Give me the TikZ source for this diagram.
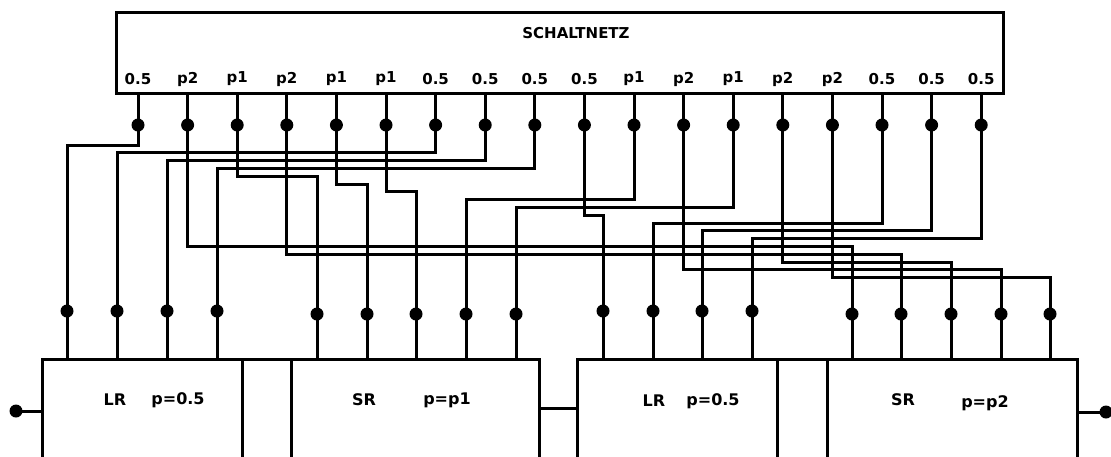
\documentclass[tikz,border=0pt]{standalone}
\usepackage{fontspec}
\setmainfont{DejaVu Sans}
\usetikzlibrary{calc}
\begin{document}
\begin{tikzpicture}[x=1pt,y=-1pt,
  box/.style={draw, line width=3pt, inner sep=0pt, minimum height=103pt},
  wire/.style={line width=3pt, line join=miter},
  pindot/.style={circle, fill, inner sep=0pt, minimum size=13pt},
  toplbl/.style={font=\bfseries\fontsize{15}{17}\selectfont, inner sep=0pt},
  boxlbl/.style={font=\bfseries\fontsize{16}{18}\selectfont, inner sep=0pt}]
\useasboundingbox (0,0) rectangle (1111,456);
\clip (0,0) rectangle (1111,456);

% top box
\node[draw, line width=3pt, minimum width=887pt, minimum height=81pt, inner sep=0pt] (sn) at (559.5,52.5) {};
\node[toplbl] (title) at (576,33) {SCHALTNETZ};

% top pins
\foreach \i/\l in {0/0.5,1/p2,2/p1,3/p2,4/p1,5/p1,6/0.5,7/0.5,8/0.5,9/0.5,10/p1,11/p2,12/p1,13/p2,14/p2,15/0.5,16/0.5,17/0.5}{
  \pgfmathsetmacro\px{138+49.6*\i}
  \coordinate (tp\i) at (\px,93);
  \node[pindot] (td\i) at (\px,125) {};
  \node[toplbl] (tl\i) at (\px,79) {\l};
}

% bottom boxes
\node[box, minimum width=200pt] (lr1) at (142,410.5) {};
\node[box, minimum width=49pt] (gap1) at (266.5,410.5) {};
\node[box, minimum width=248pt] (sr1) at (415,410.5) {};
\node[box, minimum width=200pt] (lr2) at (677,410.5) {};
\node[box, minimum width=50pt] (gap2) at (802,410.5) {};
\node[box, minimum width=250pt] (sr2) at (952,410.5) {};

\node[boxlbl] (lr1a) at (115,400) {LR};
\node[boxlbl] (lr1b) at (178,400) {p=0.5};
\node[boxlbl] (sr1a) at (364,400) {SR};
\node[boxlbl] (sr1b) at (447,400) {p=p1};
\node[boxlbl] (lr2a) at (654,401) {LR};
\node[boxlbl] (lr2b) at (713,401) {p=0.5};
\node[boxlbl] (sr2a) at (903,400) {SR};
\node[boxlbl] (sr2b) at (985,403) {p=p2};

% bottom pins
\foreach \k/\x/\y in {0/67/311,1/117/311,2/167/311,3/217/311,
  4/317/314,5/367/314,6/416/314,7/466/314,8/516/314,
  9/603/311,10/653/311,11/702/311,12/752/311,
  13/852/314,14/901/314,15/951/314,16/1001/314,17/1050/314}{
  \coordinate (bp\k) at (\x,359);
  \node[pindot] (bd\k) at (\x,\y) {};
}

% wiring: route k goes from top pin t to bottom pin k
\foreach \k/\t in {0/0,1/6,2/7,3/8,4/2,5/4,6/5,7/10,8/12,9/9,10/15,11/16,12/17,13/1,14/3,15/13,16/11,17/14}{
  \pgfmathsetmacro\ry{145+7.8*\k}
  \draw[wire] (tp\t) -- (td\t.center) |- (bd\k.center |- 0,\ry) -- (bd\k.center) -- (bp\k);
}

% input, link, output
\node[pindot] (in) at (16,411) {};
\draw[wire] (in.center) -- (in -| lr1.west);
\coordinate (lk) at (560,408);
\draw[wire] (lk -| sr1.east) -- (lk -| lr2.west);
\node[pindot] (out) at (1106,412) {};
\draw[wire] (out -| sr2.east) -- (out.center);
\end{tikzpicture}
\end{document}
